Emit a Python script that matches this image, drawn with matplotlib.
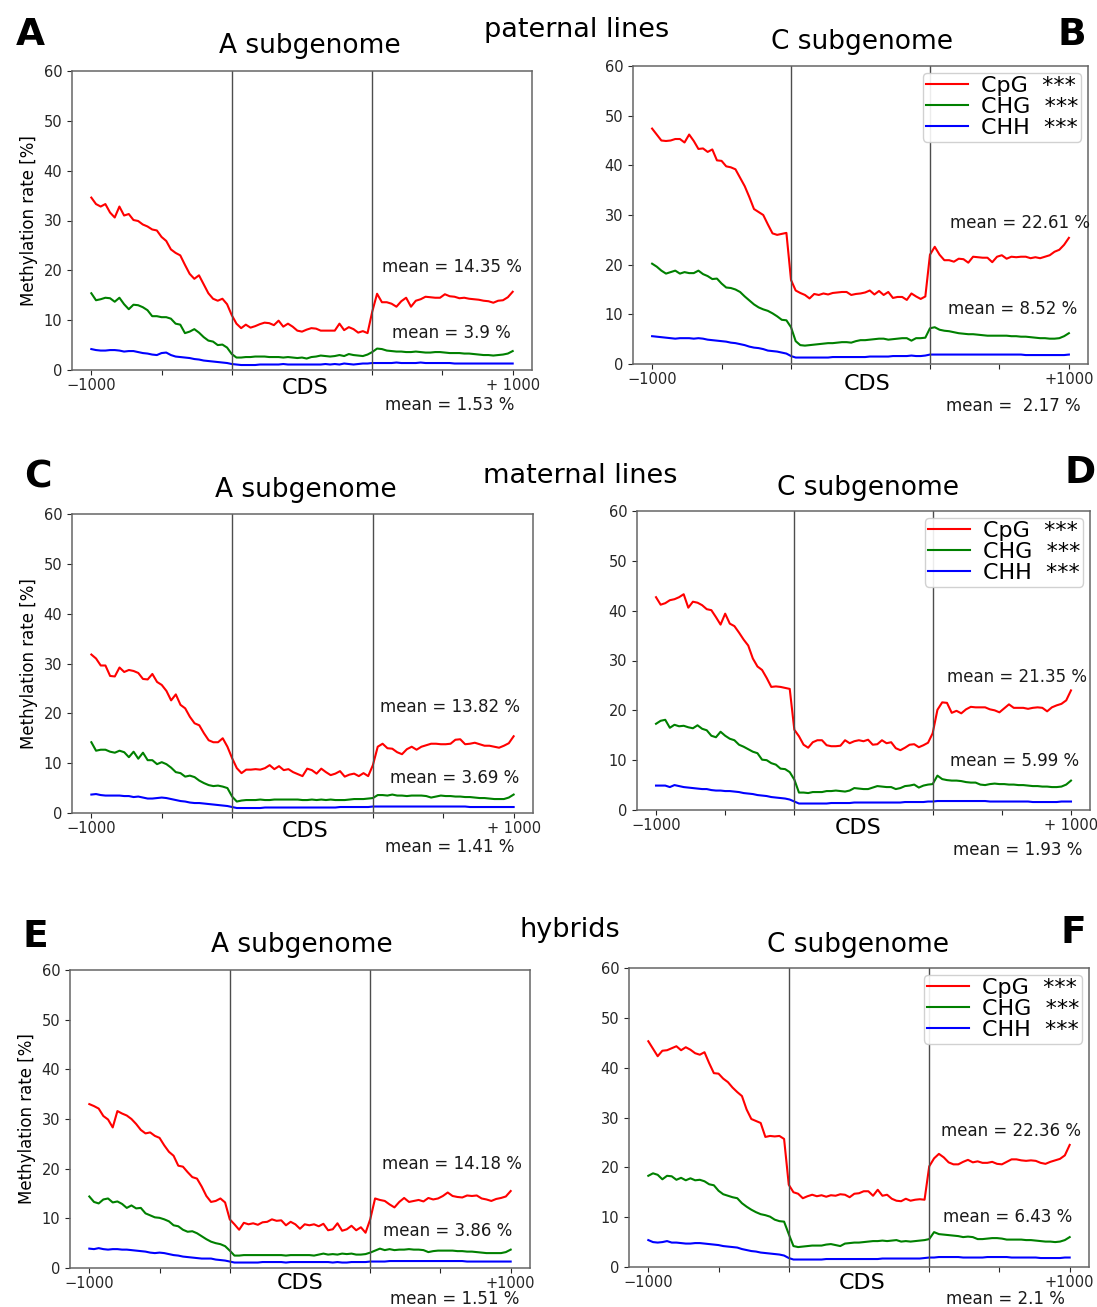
import numpy as np
import matplotlib.pyplot as plt

W, H = 1097, 1307

# bins: 30 upstream (-1000..0), 30 in CDS, 30 downstream (0..+1000)
x_up = np.arange(30) * 40 / 30
x_cds = 40 + np.arange(30) * 40 / 30
x_down = np.linspace(80, 120, 30)
x = np.concatenate([x_up, x_cds, x_down])

# ---- paternal lines, A subgenome
pat_A_CpG = [34.6, 33.3, 32.8, 33.3, 31.6, 30.6, 32.8, 31.0, 31.3, 30.1, 29.9, 29.2, 28.8, 28.2, 28.0,
             26.7, 25.9, 24.2, 23.5, 23.0, 21.1, 19.3, 18.3, 19.0, 17.2, 15.4, 14.3, 13.9, 14.3, 13.2,
             11.0, 9.3, 8.4, 9.1, 8.5, 8.8, 9.2, 9.5, 9.4, 9.0, 9.9, 8.7, 9.3, 8.7, 7.9,
             7.7, 8.1, 8.4, 8.3, 7.9, 7.9, 7.9, 7.9, 9.3, 8.0, 8.6, 8.2, 7.5, 7.8, 7.4,
             11.7, 15.3, 13.6, 13.6, 13.3, 12.7, 13.8, 14.5, 12.7, 13.9, 14.2, 14.7, 14.6, 14.5, 14.5,
             15.2, 14.8, 14.7, 14.4, 14.5, 14.3, 14.2, 14.1, 13.9, 13.8, 13.5, 13.9, 14.0, 14.6, 15.7]
pat_A_CHG = [15.4, 14.0, 14.2, 14.5, 14.4, 13.7, 14.5, 13.2, 12.2, 13.1, 13.0, 12.6, 12.0, 10.8, 10.8,
             10.6, 10.6, 10.3, 9.3, 9.1, 7.4, 7.7, 8.2, 7.5, 6.6, 5.9, 5.7, 5.0, 5.1, 4.5,
             3.2, 2.5, 2.5, 2.6, 2.6, 2.7, 2.7, 2.7, 2.6, 2.6, 2.6, 2.5, 2.6, 2.5, 2.4,
             2.5, 2.3, 2.6, 2.7, 2.9, 2.8, 2.7, 2.8, 3.0, 2.8, 3.2, 3.0, 2.9, 2.8, 3.1,
             3.6, 4.3, 4.2, 3.9, 3.8, 3.7, 3.7, 3.6, 3.6, 3.7, 3.6, 3.5, 3.5, 3.6, 3.6,
             3.5, 3.4, 3.4, 3.4, 3.3, 3.3, 3.2, 3.1, 3.0, 3.0, 2.9, 3.0, 3.1, 3.3, 3.8]
pat_A_CHH = [4.2, 4.0, 3.9, 3.9, 4.0, 4.0, 3.9, 3.7, 3.8, 3.8, 3.6, 3.4, 3.3, 3.1, 3.0,
             3.4, 3.5, 3.0, 2.7, 2.6, 2.5, 2.4, 2.2, 2.1, 1.9, 1.8, 1.7, 1.6, 1.5, 1.4,
             1.2, 1.1, 1.0, 1.0, 1.0, 1.0, 1.1, 1.1, 1.1, 1.1, 1.1, 1.2, 1.1, 1.1, 1.1,
             1.1, 1.1, 1.1, 1.1, 1.1, 1.2, 1.1, 1.2, 1.1, 1.3, 1.2, 1.1, 1.2, 1.3, 1.3,
             1.4, 1.4, 1.4, 1.4, 1.4, 1.5, 1.4, 1.4, 1.4, 1.4, 1.5, 1.4, 1.4, 1.4, 1.4,
             1.4, 1.4, 1.3, 1.3, 1.3, 1.3, 1.3, 1.3, 1.3, 1.3, 1.3, 1.3, 1.3, 1.3, 1.3]

# ---- paternal lines, C subgenome
pat_C_CpG = [47.4, 46.2, 45.0, 44.9, 45.0, 45.3, 45.3, 44.6, 46.2, 44.9, 43.3, 43.4, 42.7, 43.2, 41.0,
             40.9, 39.8, 39.6, 39.2, 37.5, 35.8, 33.6, 31.2, 30.6, 30.0, 28.1, 26.3, 26.0, 26.2, 26.4,
             16.9, 14.8, 14.3, 13.9, 13.2, 14.1, 13.9, 14.2, 14.0, 14.3, 14.4, 14.5, 14.5, 13.9, 14.1,
             14.2, 14.4, 14.8, 14.0, 14.7, 13.9, 14.5, 13.3, 13.5, 13.5, 12.9, 14.2, 13.6, 13.1, 13.6,
             22.0, 23.6, 22.0, 20.9, 20.9, 20.6, 21.2, 21.1, 20.4, 21.6, 21.5, 21.4, 21.4, 20.5, 21.6,
             21.9, 21.2, 21.6, 21.5, 21.6, 21.6, 21.3, 21.5, 21.3, 21.6, 21.9, 22.6, 23.0, 24.0, 25.4]
pat_C_CHG = [20.2, 19.6, 18.8, 18.2, 18.5, 18.8, 18.2, 18.5, 18.3, 18.3, 18.8, 18.1, 17.7, 17.1, 17.2,
             16.2, 15.4, 15.3, 15.0, 14.5, 13.6, 12.8, 12.0, 11.4, 11.0, 10.7, 10.2, 9.6, 8.9, 8.8,
             7.4, 4.6, 3.8, 3.7, 3.8, 3.9, 4.0, 4.1, 4.2, 4.2, 4.3, 4.4, 4.4, 4.3, 4.6,
             4.8, 4.8, 4.9, 5.0, 5.1, 5.1, 4.9, 5.0, 5.1, 5.2, 5.2, 4.7, 5.2, 5.2, 5.3,
             7.2, 7.4, 6.9, 6.7, 6.6, 6.4, 6.2, 6.1, 6.0, 6.0, 5.9, 5.8, 5.7, 5.7, 5.7,
             5.7, 5.7, 5.6, 5.6, 5.5, 5.5, 5.4, 5.3, 5.2, 5.2, 5.1, 5.1, 5.2, 5.6, 6.2]
pat_C_CHH = [5.6, 5.5, 5.4, 5.3, 5.2, 5.1, 5.2, 5.2, 5.2, 5.1, 5.2, 5.1, 4.9, 4.8, 4.7,
             4.6, 4.5, 4.3, 4.2, 4.0, 3.8, 3.5, 3.3, 3.2, 3.0, 2.7, 2.6, 2.5, 2.3, 2.1,
             1.6, 1.3, 1.3, 1.3, 1.3, 1.3, 1.3, 1.3, 1.3, 1.4, 1.4, 1.4, 1.4, 1.4, 1.4,
             1.4, 1.4, 1.5, 1.5, 1.5, 1.5, 1.5, 1.6, 1.6, 1.6, 1.6, 1.7, 1.6, 1.6, 1.7,
             1.9, 1.9, 1.9, 1.9, 1.9, 1.9, 1.9, 1.9, 1.9, 1.9, 1.9, 1.9, 1.9, 1.9, 1.9,
             1.9, 1.9, 1.9, 1.9, 1.9, 1.8, 1.8, 1.8, 1.8, 1.8, 1.8, 1.8, 1.8, 1.8, 1.9]

# ---- maternal lines, A subgenome
mat_A_CpG = [31.8, 31.0, 29.6, 29.6, 27.5, 27.4, 29.2, 28.3, 28.7, 28.5, 28.1, 26.9, 26.8, 27.9, 26.3,
             25.7, 24.5, 22.6, 23.8, 21.7, 21.0, 19.3, 18.0, 17.6, 16.0, 14.6, 14.2, 14.2, 15.0, 13.3,
             11.0, 9.0, 8.0, 8.7, 8.7, 8.8, 8.7, 9.0, 9.6, 8.8, 9.4, 8.6, 8.8, 8.2, 7.8,
             7.4, 8.9, 8.6, 7.9, 8.9, 8.2, 7.6, 7.9, 8.4, 7.3, 7.7, 7.9, 7.4, 8.0, 7.4,
             9.6, 13.3, 13.9, 13.0, 12.9, 12.2, 11.8, 12.8, 13.3, 12.7, 13.3, 13.6, 13.9, 13.9, 13.8,
             13.8, 13.9, 14.7, 14.8, 13.8, 13.9, 14.1, 13.8, 13.5, 13.5, 13.3, 13.1, 13.5, 14.0, 15.4]
mat_A_CHG = [14.2, 12.5, 12.7, 12.7, 12.3, 12.1, 12.5, 12.2, 11.2, 12.3, 10.9, 12.1, 10.6, 10.6, 9.8,
             10.2, 9.8, 9.1, 8.2, 8.0, 7.3, 7.5, 7.2, 6.5, 6.0, 5.6, 5.4, 5.5, 5.3, 5.0,
             3.3, 2.3, 2.5, 2.6, 2.6, 2.6, 2.7, 2.6, 2.6, 2.7, 2.7, 2.7, 2.7, 2.7, 2.7,
             2.6, 2.6, 2.7, 2.6, 2.7, 2.6, 2.7, 2.6, 2.6, 2.6, 2.7, 2.8, 2.8, 2.8, 2.9,
             3.0, 3.6, 3.6, 3.5, 3.7, 3.5, 3.5, 3.4, 3.5, 3.5, 3.5, 3.4, 3.1, 3.3, 3.5,
             3.4, 3.4, 3.3, 3.3, 3.2, 3.2, 3.1, 3.0, 3.0, 2.9, 2.8, 2.8, 2.8, 3.1, 3.7]
mat_A_CHH = [3.7, 3.8, 3.6, 3.5, 3.5, 3.5, 3.5, 3.4, 3.4, 3.2, 3.3, 3.1, 2.9, 2.9, 3.0,
             3.1, 3.0, 2.8, 2.6, 2.4, 2.3, 2.1, 2.0, 2.0, 1.9, 1.8, 1.7, 1.6, 1.5, 1.4,
             1.2, 1.0, 1.0, 1.0, 1.0, 1.0, 1.0, 1.1, 1.1, 1.1, 1.1, 1.1, 1.1, 1.1, 1.1,
             1.1, 1.1, 1.1, 1.1, 1.1, 1.1, 1.1, 1.1, 1.2, 1.2, 1.2, 1.2, 1.2, 1.2, 1.2,
             1.3, 1.3, 1.3, 1.3, 1.3, 1.3, 1.3, 1.3, 1.3, 1.3, 1.3, 1.3, 1.3, 1.3, 1.3,
             1.3, 1.3, 1.3, 1.3, 1.3, 1.2, 1.2, 1.2, 1.2, 1.2, 1.2, 1.2, 1.2, 1.2, 1.2]

# ---- maternal lines, C subgenome
mat_C_CpG = [42.7, 41.2, 41.5, 42.1, 42.3, 42.7, 43.3, 40.6, 41.8, 41.6, 41.1, 40.3, 40.1, 38.7, 37.2,
             39.4, 37.4, 36.9, 35.6, 34.2, 33.0, 30.4, 28.8, 28.1, 26.5, 24.7, 24.8, 24.7, 24.5, 24.3,
             16.1, 14.8, 13.1, 12.5, 13.6, 14.0, 14.0, 13.0, 12.8, 12.8, 12.9, 14.0, 13.4, 13.8, 14.0,
             13.8, 14.1, 13.1, 13.2, 14.0, 13.4, 13.6, 12.4, 12.0, 12.5, 13.1, 13.2, 12.6, 13.0, 13.5,
             15.4, 20.1, 21.6, 21.5, 19.5, 19.9, 19.4, 20.2, 20.7, 20.6, 20.6, 20.6, 20.2, 20.0, 19.6,
             20.4, 21.2, 20.5, 20.5, 20.5, 20.3, 20.5, 20.6, 20.5, 19.8, 20.6, 21.0, 21.3, 22.0, 24.0]
mat_C_CHG = [17.3, 17.9, 18.1, 16.5, 17.1, 16.8, 16.9, 16.6, 16.4, 17.0, 16.3, 16.0, 14.9, 14.6, 15.7,
             14.9, 14.3, 14.0, 13.1, 12.7, 12.2, 11.7, 11.4, 10.1, 10.0, 9.4, 9.1, 8.3, 8.2, 7.6,
             6.1, 3.5, 3.5, 3.4, 3.6, 3.6, 3.6, 3.8, 3.8, 3.9, 3.8, 3.7, 3.9, 4.4, 4.3,
             4.2, 4.2, 4.5, 4.8, 4.7, 4.6, 4.6, 4.2, 4.4, 4.8, 4.9, 5.1, 4.5, 4.9, 5.1,
             5.2, 6.9, 6.2, 6.0, 5.9, 5.9, 5.8, 5.6, 5.5, 5.5, 5.1, 5.0, 5.2, 5.3, 5.2,
             5.2, 5.1, 5.1, 5.0, 5.0, 4.9, 4.8, 4.8, 4.7, 4.7, 4.6, 4.6, 4.7, 5.1, 5.9]
mat_C_CHH = [4.9, 4.9, 4.9, 4.6, 5.0, 4.8, 4.6, 4.5, 4.4, 4.3, 4.2, 4.2, 4.0, 3.9, 3.9,
             3.8, 3.8, 3.7, 3.6, 3.4, 3.3, 3.2, 3.0, 2.9, 2.8, 2.6, 2.5, 2.4, 2.3, 2.1,
             1.7, 1.3, 1.3, 1.3, 1.3, 1.3, 1.3, 1.3, 1.4, 1.4, 1.4, 1.4, 1.4, 1.5, 1.5,
             1.5, 1.5, 1.5, 1.5, 1.5, 1.5, 1.5, 1.5, 1.5, 1.6, 1.6, 1.6, 1.6, 1.6, 1.7,
             1.7, 1.8, 1.8, 1.8, 1.8, 1.8, 1.8, 1.8, 1.8, 1.8, 1.8, 1.8, 1.7, 1.7, 1.7,
             1.7, 1.7, 1.7, 1.7, 1.7, 1.7, 1.6, 1.6, 1.6, 1.6, 1.6, 1.6, 1.7, 1.7, 1.7]

# ---- hybrids, A subgenome
hyb_A_CpG = [33.0, 32.6, 32.1, 30.6, 29.9, 28.3, 31.6, 31.1, 30.7, 30.0, 29.0, 27.8, 27.1, 27.3, 26.6,
             26.2, 24.7, 23.4, 22.6, 20.6, 20.4, 19.3, 18.3, 18.0, 16.4, 14.5, 13.3, 13.5, 14.0, 13.2,
             9.8, 8.8, 7.7, 9.1, 8.8, 9.0, 8.7, 9.2, 9.3, 9.8, 9.5, 9.6, 8.6, 9.3, 8.8,
             7.9, 8.8, 8.6, 8.8, 8.4, 8.9, 7.6, 7.8, 9.0, 7.5, 7.8, 8.5, 7.6, 8.2, 7.1,
             9.8, 14.0, 13.7, 13.5, 12.8, 12.2, 13.3, 14.1, 13.3, 13.5, 13.7, 13.4, 14.1, 13.8, 14.0,
             14.5, 15.2, 14.5, 14.3, 14.2, 14.6, 14.5, 14.6, 14.0, 13.8, 13.5, 13.9, 14.1, 14.4, 15.5]
hyb_A_CHG = [14.4, 13.3, 13.0, 13.8, 14.0, 13.2, 13.4, 12.9, 12.1, 12.6, 12.0, 12.1, 11.0, 10.6, 10.2,
             10.1, 9.8, 9.4, 8.6, 8.4, 7.7, 7.3, 7.4, 7.0, 6.4, 5.8, 5.3, 5.0, 4.8, 4.4,
             3.5, 2.5, 2.5, 2.6, 2.6, 2.6, 2.6, 2.6, 2.6, 2.6, 2.6, 2.6, 2.5, 2.6, 2.6,
             2.6, 2.6, 2.6, 2.5, 2.7, 2.9, 2.7, 2.8, 2.7, 2.9, 2.8, 2.9, 2.7, 2.7, 2.8,
             3.1, 3.5, 3.9, 3.6, 3.8, 3.6, 3.7, 3.7, 3.8, 3.7, 3.7, 3.6, 3.2, 3.4, 3.5,
             3.5, 3.5, 3.5, 3.4, 3.4, 3.3, 3.3, 3.2, 3.1, 3.0, 3.0, 3.0, 3.0, 3.2, 3.7]
hyb_A_CHH = [3.9, 3.8, 4.0, 3.8, 3.7, 3.8, 3.8, 3.7, 3.7, 3.6, 3.5, 3.4, 3.3, 3.1, 3.0,
             3.1, 3.0, 2.8, 2.6, 2.5, 2.3, 2.2, 2.1, 2.0, 1.9, 1.9, 1.9, 1.7, 1.6, 1.5,
             1.3, 1.1, 1.1, 1.1, 1.1, 1.1, 1.1, 1.2, 1.2, 1.2, 1.2, 1.2, 1.1, 1.2, 1.2,
             1.2, 1.2, 1.2, 1.2, 1.2, 1.2, 1.2, 1.1, 1.2, 1.1, 1.1, 1.2, 1.2, 1.2, 1.2,
             1.3, 1.3, 1.3, 1.3, 1.4, 1.4, 1.4, 1.4, 1.4, 1.4, 1.4, 1.4, 1.4, 1.4, 1.4,
             1.4, 1.4, 1.4, 1.4, 1.4, 1.3, 1.3, 1.3, 1.3, 1.3, 1.3, 1.3, 1.3, 1.3, 1.3]

# ---- hybrids, C subgenome
hyb_C_CpG = [45.3, 43.8, 42.3, 43.4, 43.5, 43.9, 44.3, 43.5, 44.1, 43.6, 42.9, 42.6, 43.1, 40.9, 38.9,
             38.8, 37.8, 37.1, 36.0, 35.1, 34.3, 31.6, 29.7, 29.3, 28.9, 26.1, 26.3, 26.2, 26.3, 25.7,
             16.5, 15.0, 14.7, 13.8, 14.2, 14.5, 14.2, 14.4, 14.1, 14.4, 14.3, 14.6, 14.5, 14.0, 14.7,
             14.8, 15.2, 15.2, 14.3, 15.5, 14.3, 14.5, 13.7, 13.3, 13.2, 13.7, 13.3, 13.5, 13.6, 13.5,
             20.2, 21.8, 22.7, 22.0, 21.0, 20.6, 20.6, 21.1, 21.5, 21.0, 21.2, 20.9, 20.9, 21.1, 20.7,
             20.6, 21.1, 21.6, 21.6, 21.4, 21.3, 21.4, 21.3, 20.9, 20.7, 21.1, 21.4, 21.7, 22.4, 24.5]
hyb_C_CHG = [18.3, 18.8, 18.5, 17.6, 18.3, 18.2, 17.5, 17.9, 17.4, 17.8, 17.4, 17.5, 17.2, 16.6, 16.4,
             15.3, 14.6, 14.3, 14.0, 13.8, 12.8, 12.1, 11.5, 11.0, 10.6, 10.4, 10.1, 9.5, 9.2, 9.1,
             6.6, 4.2, 4.0, 4.1, 4.2, 4.3, 4.3, 4.3, 4.5, 4.6, 4.4, 4.2, 4.7, 4.8, 4.9,
             4.9, 5.0, 5.1, 5.2, 5.2, 5.3, 5.2, 5.3, 5.4, 5.1, 5.2, 5.1, 5.2, 5.3, 5.4,
             5.6, 7.0, 6.6, 6.5, 6.4, 6.3, 6.2, 6.0, 6.1, 6.0, 5.6, 5.6, 5.7, 5.8, 5.8,
             5.7, 5.5, 5.5, 5.5, 5.5, 5.4, 5.4, 5.3, 5.2, 5.1, 5.1, 5.0, 5.1, 5.4, 6.0]
hyb_C_CHH = [5.4, 5.0, 4.9, 5.0, 5.2, 4.9, 4.9, 4.8, 4.7, 4.7, 4.8, 4.8, 4.7, 4.6, 4.5,
             4.4, 4.2, 4.1, 4.0, 3.9, 3.6, 3.4, 3.2, 3.1, 2.9, 2.8, 2.7, 2.6, 2.5, 2.3,
             1.8, 1.5, 1.5, 1.5, 1.5, 1.5, 1.5, 1.5, 1.6, 1.6, 1.6, 1.6, 1.6, 1.6, 1.6,
             1.6, 1.6, 1.6, 1.6, 1.6, 1.7, 1.7, 1.7, 1.7, 1.7, 1.7, 1.7, 1.7, 1.7, 1.8,
             1.9, 1.9, 2.0, 2.0, 2.0, 2.0, 2.0, 1.9, 1.9, 1.9, 1.9, 1.9, 2.0, 2.0, 2.0,
             2.0, 2.0, 1.9, 1.9, 1.9, 1.9, 1.9, 1.9, 1.8, 1.8, 1.8, 1.8, 1.8, 1.9, 1.9]

mean_labels = {
    "A": ["mean = 14.35 %", "mean = 3.9 %", "mean = 1.53 %"],
    "B": ["mean = 22.61 %", "mean = 8.52 %", "mean =  2.17 %"],
    "C": ["mean = 13.82 %", "mean = 3.69 %", "mean = 1.41 %"],
    "D": ["mean = 21.35 %", "mean = 5.99 %", "mean = 1.93 %"],
    "E": ["mean = 14.18 %", "mean = 3.86 %", "mean = 1.51 %"],
    "F": ["mean = 22.36 %", "mean = 6.43 %", "mean = 2.1 %"],
}
end_labels = {"A": "+ 1000", "B": "+1000", "C": "+ 1000", "D": "+ 1000", "E": "+1000", "F": "+1000"}
legend_labels = ["CpG  ***", "CHG  ***", "CHH  ***"]

# panel layout in pixels: axes (left, top, width, height), title centre, letter centre,
# three mean texts (left x, centre y), CDS label centre
panels = [
    dict(key="A", data=(pat_A_CpG, pat_A_CHG, pat_A_CHH), title="A subgenome",
         ax=(72, 71, 460, 299), tpos=(310, 46), lpos=(30, 35),
         mpos=[(382, 267), (392, 333), (385, 405)], cds=(305, 388), legend=False),
    dict(key="B", data=(pat_C_CpG, pat_C_CHG, pat_C_CHH), title="C subgenome",
         ax=(633, 66, 455, 298), tpos=(862, 42), lpos=(1072, 35),
         mpos=[(950, 223), (948, 309), (946, 406)], cds=(867, 384), legend=True),
    dict(key="C", data=(mat_A_CpG, mat_A_CHG, mat_A_CHH), title="A subgenome",
         ax=(72, 514, 461, 299), tpos=(306, 490), lpos=(38, 478),
         mpos=[(380, 707), (390, 778), (385, 847)], cds=(305, 831), legend=False),
    dict(key="D", data=(mat_C_CpG, mat_C_CHG, mat_C_CHH), title="C subgenome",
         ax=(637, 511, 453, 299), tpos=(868, 488), lpos=(1080, 473),
         mpos=[(947, 677), (950, 761), (953, 850)], cds=(858, 828), legend=True),
    dict(key="E", data=(hyb_A_CpG, hyb_A_CHG, hyb_A_CHH), title="A subgenome",
         ax=(70, 970, 460, 298), tpos=(302, 945), lpos=(35, 937),
         mpos=[(382, 1164), (383, 1231), (390, 1299)], cds=(300, 1283), legend=False),
    dict(key="F", data=(hyb_C_CpG, hyb_C_CHG, hyb_C_CHH), title="C subgenome",
         ax=(629, 968, 460, 299), tpos=(858, 945), lpos=(1073, 933),
         mpos=[(941, 1131), (943, 1217), (946, 1299)], cds=(862, 1283), legend=True),
]

row_titles = [("paternal lines", 577, 30), ("maternal lines", 580, 476), ("hybrids", 570, 930)]


def fx(px):
    return px / W


def fy(py):
    return 1 - py / H


fig = plt.figure(figsize=(W / 100, H / 100), dpi=100)

for p in panels:
    l, t, w, h = p["ax"]
    ax = fig.add_axes([fx(l), fy(t + h), w / W, h / H])
    cpg, chg, chh = p["data"]
    ax.plot(x, cpg, color="red", lw=1.5, label=legend_labels[0])
    ax.plot(x, chg, color="green", lw=1.5, label=legend_labels[1])
    ax.plot(x, chh, color="blue", lw=1.5, label=legend_labels[2])
    ax.axvline(40, color="0.3", lw=1.0)
    ax.axvline(80, color="0.3", lw=1.0)
    ax.set_xlim(-5.5, 125.5)
    ax.set_ylim(0, 60)
    ax.set_yticks(range(0, 61, 10))
    ax.set_xticks([0, 20, 40, 80, 100, 120])
    ax.set_xticklabels(["\u22121000", "", "", "", "", end_labels[p["key"]]])
    ax.tick_params(labelsize=10.5, colors="0.15")
    ax.tick_params(axis="x", pad=2)
    for s in ax.spines.values():
        s.set_color("0.4")
        s.set_linewidth(1.1)
    if p["key"] in ("A", "C", "E"):
        ax.set_ylabel("Methylation rate [%]", fontsize=12)
    if p["legend"]:
        ax.legend(loc="upper right", fontsize=16, labelspacing=0.05, borderaxespad=0.3,
                  handlelength=1.9, handletextpad=0.55, borderpad=0.15, framealpha=0.9)

    fig.text(fx(p["tpos"][0]), fy(p["tpos"][1]), p["title"], ha="center", va="center", fontsize=19)
    fig.text(fx(p["lpos"][0]), fy(p["lpos"][1]), p["key"], ha="center", va="center",
             fontsize=27, fontweight="bold")
    fig.text(fx(p["cds"][0]), fy(p["cds"][1]), "CDS", ha="center", va="center", fontsize=16)
    for label, (mx, my) in zip(mean_labels[p["key"]], p["mpos"]):
        fig.text(fx(mx), fy(my), label, ha="left", va="center", fontsize=12, color="0.1")

for txt, tx, ty in row_titles:
    fig.text(fx(tx), fy(ty), txt, ha="center", va="center", fontsize=19.5)

fig.savefig("out.png", dpi=100)
